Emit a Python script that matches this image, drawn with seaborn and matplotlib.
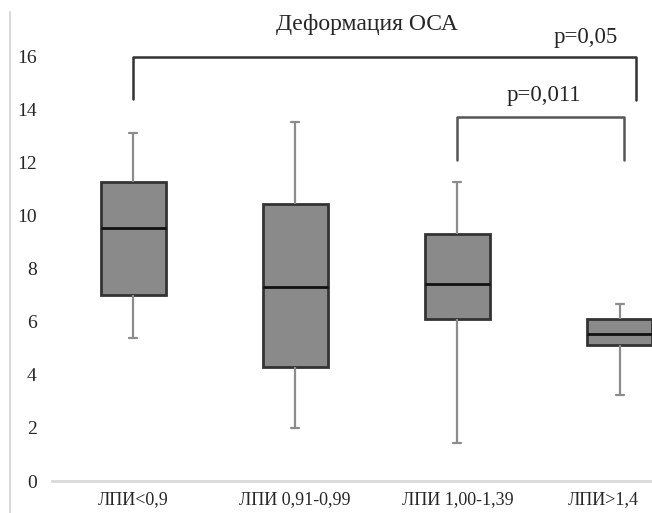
import numpy as np
import pandas as pd
import matplotlib
matplotlib.use('Agg')
import matplotlib.pyplot as plt
import matplotlib.transforms as mtransforms
from matplotlib.lines import Line2D
import seaborn as sns

# five-number summaries (min, Q1, median, Q3, max)
groups = ['ЛПИ<0,9', 'ЛПИ 0,91-0,99', 'ЛПИ 1,00-1,39', 'ЛПИ>1,4']
g1 = [5.38, 7.0, 9.52, 11.26, 13.1]
g2 = [2.0, 4.29, 7.3, 10.43, 13.5]
g3 = [1.43, 6.1, 7.42, 9.3, 11.26]
g4 = [3.24, 5.12, 5.53, 6.1, 6.66]
title = 'Деформация ОСА'
p_outer = 'p=0,05'
p_inner = 'p=0,011'

df = pd.DataFrame({
    'group': np.repeat(groups, 5),
    'value': g1 + g2 + g3 + g4,
})

sns.set_style('white')
plt.rcParams['font.family'] = ['Liberation Serif', 'DejaVu Serif']

fig = plt.figure(figsize=(6.52, 5.13), dpi=100)
ax = fig.add_axes([52 / 652, 32 / 513, 600 / 652, 451.5 / 513])

cap_col = '#8c8c8c'
sns.boxplot(data=df, x='group', y='value', order=groups, whis=(0, 100),
            width=0.4, color='#8a8a8a', saturation=1, linecolor='#333333',
            linewidth=2, ax=ax,
            whiskerprops={'color': cap_col, 'linewidth': 1.6},
            capprops={'color': cap_col, 'linewidth': 1.6},
            medianprops={'color': '#111111', 'linewidth': 2})

# short caps like the original
for ln in ax.lines:
    xd, yd = np.asarray(ln.get_xdata(), float), np.asarray(ln.get_ydata(), float)
    if ln.get_color() == cap_col and len(yd) == 2 and yd[0] == yd[1]:
        c = xd.mean()
        ln.set_xdata([c - 0.025, c + 0.025])

ax.set_xlim(-0.5, 3.2)
ax.set_ylim(0, 17)
ax.set_yticks(range(0, 17, 2))
ax.set_xlabel('')
ax.set_ylabel('')
for s in ['top', 'right', 'left']:
    ax.spines[s].set_visible(False)
ax.spines['bottom'].set_color('#d9d9d9')
ax.spines['bottom'].set_linewidth(2)
ax.tick_params(axis='y', length=0, pad=11, labelsize=14)
ax.tick_params(axis='x', length=0, pad=7, labelsize=13)

# last category label sits a little left of its box in the original
last = ax.get_xticklabels()[-1]
last.set_transform(last.get_transform() +
                   mtransforms.ScaledTranslation(-12 / 72, 0, fig.dpi_scale_trans))

# significance brackets
ax.plot([0, 0, 3.1, 3.1], [14.4, 15.96, 15.96, 14.35], color='#333333', lw=1.8)
ax.plot([2, 2, 3.03, 3.03], [12.1, 13.7, 13.7, 12.1], color='#555555', lw=1.8)
ax.text(2.79, 16.7, p_outer, ha='center', va='center', fontsize=16.5)
ax.text(2.53, 14.5, p_inner, ha='center', va='center', fontsize=16.5)
ax.text(1.44, 17.2, title, ha='center', va='center', fontsize=17)

fig.add_artist(Line2D([10 / 652, 10 / 652], [0, 1 - 12 / 513],
                      color='#d9d9d9', lw=1.5))

plt.savefig('out.png', dpi=100)
plt.close()
